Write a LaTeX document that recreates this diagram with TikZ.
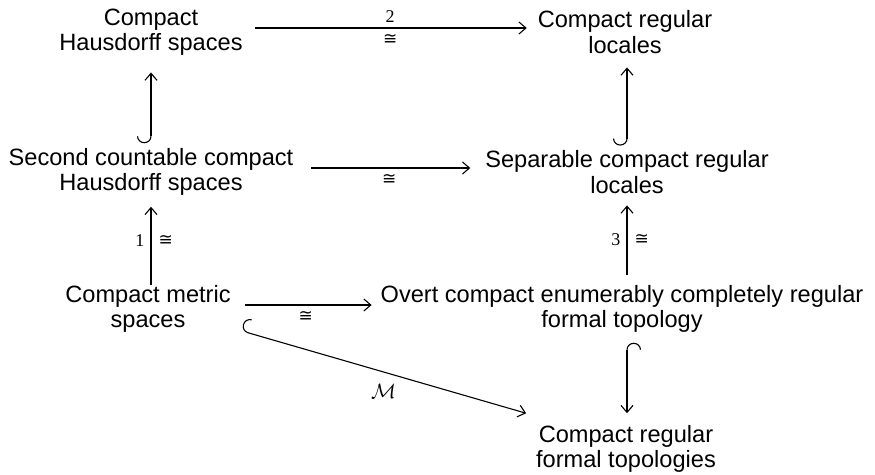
\documentclass[tikz,border=0pt]{standalone}
\usepackage{fontspec}
\setmainfont{Liberation Serif}
\setsansfont{Liberation Sans}
\newfontfamily\isofont{DejaVu Sans}
\usetikzlibrary{arrows.meta,calc}
\begin{document}
\begin{tikzpicture}[x=1pt,y=-1pt,
  obj/.style={font=\sffamily\fontsize{23.6}{25.5}\selectfont, align=center, inner sep=0pt, outer sep=0pt},
  lbl/.style={font=\rmfamily\fontsize{18}{18}\selectfont, inner sep=0pt},
  iso/.style={font=\isofont\fontsize{17}{17}\selectfont, inner sep=0pt},
  arr/.style={line width=1.1pt, -{Straight Barb[length=7pt,width=12pt,line width=1.1pt]}},
  hookarr/.style={line width=1.1pt,
    {Hooks[right,length=7pt,width=28pt,line width=1.1pt]}-{Straight Barb[length=7pt,width=12pt,line width=1.1pt]}}
]
\useasboundingbox (0,0) rectangle (875,474);

% objects
\node[obj] (A) at (151,32)  {Compact\\Hausdorff spaces};
\node[obj] (B) at (625,32)  {Compact regular\\locales};
\node[obj] (C) at (151,172) {Second countable compact\\Hausdorff spaces};
\node[obj] (D) at (627,172) {Separable compact regular\\locales};
\node[obj] (E) at (148,309) {Compact metric\\spaces};
\node[obj] (F) at (622,309) {Overt compact enumerably completely regular\\formal topology};
\node[obj] (G) at (626,449) {Compact regular\\formal topologies};

% horizontal isomorphisms
\draw[arr, shorten <=12pt, shorten >=11pt] ([yshift=4pt]A.east) -- ([yshift=4pt]B.west)
  node[lbl, midway, above=5pt] {2}
  node[iso, midway, below=6pt] {≅};
\draw[arr, shorten <=18pt, shorten >=15pt] ([yshift=4pt]C.east) -- ([yshift=4pt]D.west)
  node[iso, midway, below=6pt] {≅};
\draw[arr, shorten <=14pt, shorten >=9pt] ([yshift=4pt]E.east) -- ([yshift=4pt]F.west)
  node[iso, midway, below=6pt] {≅};

% vertical maps
\draw[hookarr, shorten <=5pt, shorten >=17pt] (C.north) -- (A.south);
\draw[hookarr, shorten <=5pt, shorten >=14pt] (D.north) -- (D.north |- B.south);
\draw[arr, shorten >=11pt] (C.south |- E.north) -- (C.south)
  node[lbl, midway, left=6pt] {1}
  node[iso, midway, right=7pt] {≅};
\draw[arr, shorten <=10pt, shorten >=12pt] (D.south |- F.north) -- (D.south)
  node[lbl, midway, left=6pt] {3}
  node[iso, midway, right=7pt] {≅};
\draw[hookarr, shorten <=10pt, shorten >=12pt] ([xshift=1pt]G.north |- F.south) -- ([xshift=1pt]G.north);

% diagonal embedding
\draw[hookarr] ($(E.south east)+(10.5,-2)$) -- ($(G.north west)+(-10,-12)$)
  node[midway, below=12pt, inner sep=0pt, font=\fontsize{21}{21}\selectfont] {$\mathcal{M}$};
\end{tikzpicture}
\end{document}
